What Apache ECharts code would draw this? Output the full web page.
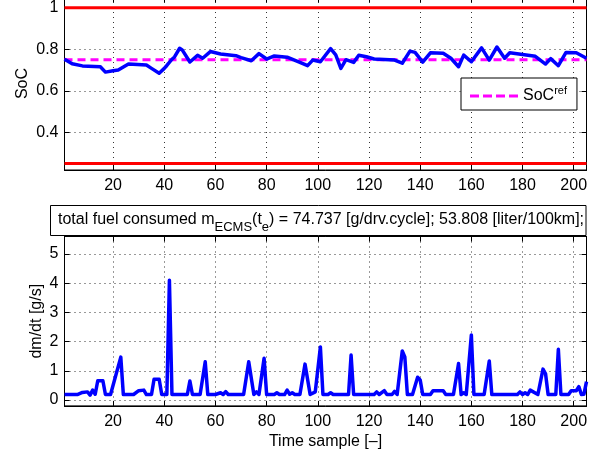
<!DOCTYPE html>
<html><head><meta charset="utf-8">
<script src="https://cdn.jsdelivr.net/npm/echarts@6/dist/echarts.min.js"></script>
<style>html,body{margin:0;padding:0;background:#fff}#c{width:604px;height:453px}</style>
</head><body><div id="c"></div>
<script>
// ---- data ----
const xRange = [1, 205];
const socX = [1,4,8,15,17,20,22,26,33,35,38,40,41,43,44,46,47,50,53,55,58,62,68,70,74,77,80,83,88,93,96,98,101,105,107,109,111,114,116,119,122,130,133,136,138,141,144,149,152,155,157,160,164,167,170,173,175,180,185,189,191,194,197,201,205];
const socY = [0.752,0.730,0.720,0.716,0.690,0.697,0.700,0.729,0.724,0.708,0.685,0.708,0.722,0.752,0.763,0.805,0.797,0.739,0.771,0.757,0.789,0.777,0.769,0.760,0.745,0.779,0.753,0.768,0.762,0.737,0.721,0.748,0.740,0.803,0.773,0.708,0.750,0.737,0.771,0.764,0.753,0.748,0.733,0.791,0.785,0.738,0.783,0.781,0.757,0.716,0.772,0.740,0.807,0.748,0.811,0.757,0.783,0.775,0.766,0.729,0.755,0.721,0.785,0.783,0.757];
const socRef = 0.75;
const socUpper = 1.0;
const socLower = 0.25;
const fuelX = [1,6,8,10,11,12,13,14,16,17,19,23,24,28,30,32,33,35,36,38,39,41,42,43,49,50,51,54,56,57,60,62,63,64,65,71,73,75,76,77,79,80,83,84,85,87,88,89,90,91,93,95,97,99,101,102,104,105,106,112,113,114,122,123,124,126,127,129,130,131,133,134,135,137,139,140,141,144,145,149,150,153,155,156,157,158,160,161,165,167,168,178,179,180,181,182,183,186,188,189,190,193,194,195,198,199,201,202,203,204,205];
const fuelY = [0.19,0.19,0.26,0.28,0.17,0.34,0.2,0.66,0.66,0.19,0.19,1.47,0.19,0.19,0.32,0.34,0.19,0.19,0.71,0.71,0.19,0.19,4.1,0.19,0.19,0.65,0.19,0.19,1.31,0.19,0.19,0.25,0.19,0.29,0.19,0.19,1.31,0.19,0.28,0.19,1.43,0.19,0.19,0.25,0.19,0.19,0.34,0.2,0.25,0.19,0.19,1.23,0.19,0.28,1.82,0.19,0.19,0.25,0.19,0.19,1.54,0.19,0.19,0.28,0.19,0.32,0.19,0.19,0.3,0.19,1.68,1.48,0.19,0.19,0.78,0.69,0.19,0.19,0.32,0.32,0.19,0.19,1.25,0.19,0.25,0.19,2.23,0.19,0.19,1.34,0.19,0.19,0.28,0.19,0.25,0.19,0.34,0.19,1.06,0.9,0.19,0.19,1.74,0.19,0.19,0.32,0.32,0.46,0.19,0.2,0.63];
const socYRange = [0.2183, 1.052];
const fuelYRange = [-0.2, 5.6];
const xLabel = 'Time sample [–]';
const socLabel = 'SoC';
const fuelLabel = 'dm/dt [g/s]';
const fuelText = ['total fuel consumed m', 'ECMS', '(t', 'e', ') = 74.737 [g/drv.cycle]; 53.808 [liter/100km];'];

// ---- chart ----
const font = "'Liberation Sans', Arial, Helvetica, sans-serif";
const pairs = (xs, ys) => xs.map((x, i) => [x, ys[i]]);
const dotted = {show: true, lineStyle: {type: [1, 4], color: '#333', width: 1}};
const lbl = {fontFamily: font, fontSize: 16, color: '#000'};

function xAxis(gi, pos, withName) {
  return {
    type: 'value', gridIndex: gi, position: pos, min: xRange[0], max: xRange[1],
    minInterval: 20, maxInterval: 20,
    axisLine: {show: true, onZero: false, lineStyle: {color: '#000', width: 1}},
    axisTick: {show: true, inside: true, length: 5, lineStyle: {color: '#000'}},
    axisLabel: pos === 'bottom' ? Object.assign({show: true, margin: 8, showMinLabel: false, showMaxLabel: false}, lbl) : {show: false},
    splitLine: pos === 'bottom' ? dotted : {show: false},
    name: withName ? xLabel : '', nameLocation: 'middle', nameGap: 27.5, nameMoveOverlap: false,
    nameTextStyle: lbl
  };
}
function yAxis(gi, pos, range, step, name, gap) {
  return {
    type: 'value', gridIndex: gi, position: pos, min: range[0], max: range[1],
    minInterval: step, maxInterval: step,
    axisLine: {show: true, onZero: false, lineStyle: {color: '#000', width: 1}},
    axisTick: {show: true, inside: true, length: 5, lineStyle: {color: '#000'}},
    axisLabel: pos === 'left' ? Object.assign({show: true, margin: 6, showMinLabel: false, showMaxLabel: false}, lbl) : {show: false},
    splitLine: pos === 'left' ? dotted : {show: false},
    name: pos === 'left' ? name : '', nameLocation: 'middle', nameGap: gap, nameMoveOverlap: false,
    nameTextStyle: lbl
  };
}

const chart = echarts.init(document.getElementById('c'));
chart.setOption({
  animation: false,
  backgroundColor: '#fff',
  textStyle: {fontFamily: font},
  grid: [
    {left: 64.5, right: 17.5, top: -3, height: 173, show: true, borderColor: '#000', borderWidth: 1, backgroundColor: 'transparent', outerBoundsMode: 'none', containLabel: false},
    {left: 64.5, right: 17.5, top: 236.5, height: 169.4, show: true, borderColor: '#000', borderWidth: 1, backgroundColor: 'transparent', outerBoundsMode: 'none', containLabel: false}
  ],
  xAxis: [xAxis(0, 'bottom', false), xAxis(0, 'top', false), xAxis(1, 'bottom', true), xAxis(1, 'top', false)],
  yAxis: [yAxis(0, 'left', socYRange, 0.2, socLabel, 34), yAxis(0, 'right', socYRange, 0.2, '', 0),
          yAxis(1, 'left', fuelYRange, 1, fuelLabel, 20), yAxis(1, 'right', fuelYRange, 1, '', 0)],
  legend: {
    data: [{name: 'SoCref', icon: 'path://M0,0h9v3h-9z M13,0h9v3h-9z M26,0h9v3h-9z M39,0h9v3h-9z'}],
    left: 461, top: 78, orient: 'vertical',
    padding: [7, 10, 6, 9], itemWidth: 48, itemHeight: 3, itemGap: 0,
    borderColor: '#000', borderWidth: 1, backgroundColor: '#fff', borderRadius: 0,
    itemStyle: {color: '#ff00ff', borderWidth: 0},
    formatter: () => '{a|SoC}{b|ref}',
    textStyle: {fontFamily: font, color: '#000', rich: {
      a: {fontFamily: font, fontSize: 16, lineHeight: 22, verticalAlign: 'middle', color: '#000'},
      b: {fontFamily: font, fontSize: 11, lineHeight: 11, verticalAlign: 'top', color: '#000'}
    }}
  },
  graphic: [
    {type: 'rect', shape: {x: 50.5, y: 205.5, width: 535.5, height: 30}, style: {fill: '#fff', stroke: '#000', lineWidth: 1}, z: 10},
    {type: 'text', x: 58, y: 219.5, z: 11, style: {
      text: '{n|' + fuelText[0] + '}{s|' + fuelText[1] + '}{n|' + fuelText[2] + '}{s|' + fuelText[3] + '}{n|' + fuelText[4] + '}',
      align: 'left', verticalAlign: 'middle', fill: '#000', fontFamily: font, fontSize: 16,
      rich: {
        n: {fontFamily: font, fontSize: 16, lineHeight: 28, verticalAlign: 'middle', fill: '#000'},
        s: {fontFamily: font, fontSize: 13, lineHeight: 12, verticalAlign: 'bottom', fill: '#000'}
      }
    }}
  ],
  series: [
    {name: 'upper', type: 'line', xAxisIndex: 0, yAxisIndex: 0, data: pairs(xRange, [socUpper, socUpper]), showSymbol: false, symbol: 'none',
     lineStyle: {color: '#ff0000', width: 3}, itemStyle: {color: '#ff0000'}, z: 2, silent: true},
    {name: 'lower', type: 'line', xAxisIndex: 0, yAxisIndex: 0, data: pairs(xRange, [socLower, socLower]), showSymbol: false, symbol: 'none',
     lineStyle: {color: '#ff0000', width: 3}, itemStyle: {color: '#ff0000'}, z: 2, silent: true},
    {name: 'SoCref', type: 'line', xAxisIndex: 0, yAxisIndex: 0, data: pairs(xRange, [socRef, socRef]), showSymbol: false, symbol: 'none',
     lineStyle: {color: '#ff00ff', width: 3, type: [8, 5]}, itemStyle: {color: '#ff00ff'}, z: 3},
    {name: 'SoC', type: 'line', xAxisIndex: 0, yAxisIndex: 0, data: pairs(socX, socY), showSymbol: false, symbol: 'none',
     lineStyle: {color: '#0000ff', width: 3.5, join: 'round'}, itemStyle: {color: '#0000ff'}, z: 4},
    {name: 'fuel', type: 'line', xAxisIndex: 2, yAxisIndex: 2, data: pairs(fuelX, fuelY), showSymbol: false, symbol: 'none',
     lineStyle: {color: '#0000ff', width: 3.5, join: 'round'}, itemStyle: {color: '#0000ff'}, z: 4}
  ]
});
</script>
</body></html>
